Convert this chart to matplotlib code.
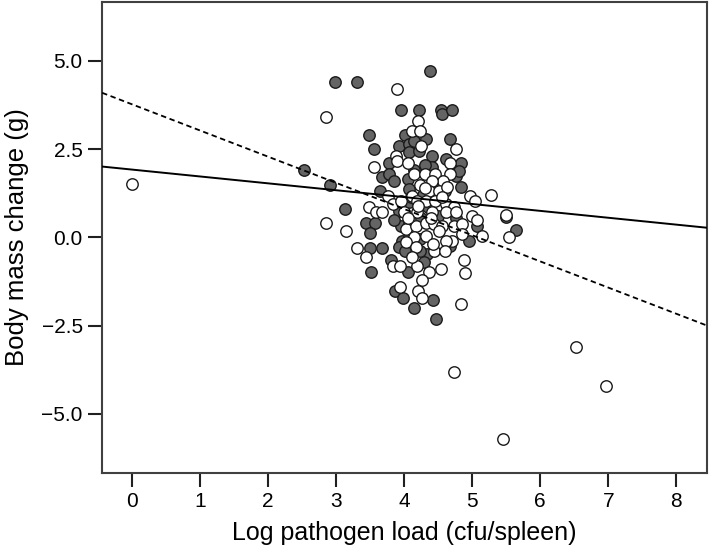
import matplotlib
matplotlib.use("Agg")
import matplotlib.pyplot as plt
from matplotlib.ticker import FuncFormatter

# Grey (filled) group: log pathogen load vs body mass change
grey_x = [2.99, 3.30, 4.38, 3.95, 4.22, 4.54, 4.56, 4.71,
          3.48, 4.01, 4.32, 4.68, 3.55, 3.93, 4.07, 4.15, 4.07, 3.78, 4.22, 4.41, 4.61, 4.84,
          2.53, 3.68, 3.78, 3.85, 4.05, 4.41, 4.76, 4.81, 2.91, 3.65, 4.07, 4.84,
          3.13, 4.07, 3.93, 3.44, 3.57, 3.50, 3.95, 4.07, 5.07, 5.49, 5.65, 4.95, 4.24, 3.97,
          3.50, 3.68, 3.92, 4.01, 4.34, 3.80,
          3.51, 4.06, 4.29, 3.87, 3.99, 4.14, 4.43, 4.47,
          4.68, 4.76, 4.07, 4.23,
          4.10, 4.28, 4.35, 4.25, 3.85, 4.50, 4.30, 4.15, 4.45, 4.60]
grey_y = [4.40, 4.40, 4.71, 3.61, 3.61, 3.61, 3.49, 3.61,
          2.91, 2.91, 2.78, 2.80, 2.50, 2.60, 2.64, 2.74, 2.41, 2.12, 2.45, 2.31, 2.21, 2.12,
          1.92, 1.70, 1.79, 1.60, 1.65, 1.98, 1.75, 1.89, 1.49, 1.32, 1.37, 1.42,
          0.81, 0.99, 0.76, 0.42, 0.41, 0.11, 0.31, 0.38, 0.31, 0.57, 0.21, -0.09, -0.05, -0.09,
          -0.30, -0.30, -0.28, -0.40, -0.47, -0.64,
          -0.99, -0.99, -0.71, -1.51, -1.72, -2.00, -1.79, -2.31,
          -0.25, 0.55, 0.00, -0.38,
          1.15, 1.20, 0.85, 0.55, 0.50, 0.60, 2.05, 1.90, 1.55, 1.30]

# White (open) group
white_x = [0.00, 3.90, 2.85, 4.20, 4.11, 4.24, 4.76, 4.25, 3.88, 3.90, 4.05, 4.68, 3.55,
           4.15, 4.31, 4.46, 4.68, 4.57, 4.41, 4.24, 3.76, 4.12, 4.37, 4.51, 4.63, 4.97, 5.04, 5.27,
           3.49, 3.59, 3.68, 3.83, 3.95, 4.19, 4.32, 4.46, 4.61, 4.73, 4.00, 4.19, 4.41, 4.61, 4.76,
           2.85, 3.14, 4.02, 4.17, 4.32, 4.44, 4.56, 4.73, 4.85, 5.00, 5.07, 5.49, 5.54, 5.15, 4.85,
           4.32, 4.51, 4.15, 4.02, 4.71, 4.61,
           3.30, 3.44, 4.17, 4.44, 4.60, 4.88,
           3.83, 3.94, 4.19, 4.36, 4.26, 4.54, 4.89, 3.94, 4.21, 4.26, 4.84, 4.74,
           6.52, 6.96, 5.45, 4.12, 4.43,
           4.20, 4.05, 4.40, 4.30, 4.55]
white_y = [1.50, 4.21, 3.40, 3.30, 3.01, 3.01, 2.50, 2.60, 2.31, 2.17, 2.12, 2.12, 2.00,
           1.79, 1.79, 1.79, 1.79, 1.60, 1.60, 1.49, 1.18, 1.18, 1.30, 1.30, 1.42, 1.18, 1.02, 1.21,
           0.85, 0.71, 0.71, 0.95, 1.04, 1.04, 1.04, 1.04, 0.95, 0.85, 0.71, 0.71, 0.71, 0.71, 0.71,
           0.40, 0.19, 0.24, 0.33, 0.42, 0.38, 0.33, 0.33, 0.38, 0.61, 0.50, 0.64, 0.00, 0.03, 0.09,
           0.05, 0.19, 0.00, -0.14, -0.09, -0.09,
           -0.30, -0.57, -0.28, -0.40, -0.40, -0.64,
           -0.80, -0.80, -0.80, -0.99, -1.21, -0.90, -1.01, -1.40, -1.51, -1.72, -1.90, -3.81,
           -3.10, -4.22, -5.71, -0.57, -0.19,
           0.88, 0.55, 0.55, 1.40, 1.15]

# Fitted lines (intercept, slope)
solid_fit = (1.92, -0.195)
dashed_fit = (3.77, -0.742)

x_ticks = [0, 1, 2, 3, 4, 5, 6, 7, 8]
y_ticks = [-5.0, -2.5, 0.0, 2.5, 5.0]
x_range = (-0.44, 8.45)
y_range = (-6.68, 6.68)

plt.rcParams["font.family"] = ["Liberation Sans", "DejaVu Sans"]

fig = plt.figure(figsize=(7.09, 5.5), dpi=100)
ax = fig.add_axes([0.144, 0.14, 0.853, 0.857])

edge = "#1a1a1a"
ax.scatter(grey_x, grey_y, s=68, facecolor="#646464", edgecolor=edge, linewidth=1.0, zorder=3)
ax.scatter(white_x, white_y, s=68, facecolor="white", edgecolor=edge, linewidth=1.0, zorder=3)

xs = list(x_range)
ax.plot(xs, [solid_fit[0] + solid_fit[1] * x for x in xs], color="black", lw=1.4, zorder=4)
ax.plot(xs, [dashed_fit[0] + dashed_fit[1] * x for x in xs], color="black", lw=1.3,
        linestyle=(0, (3, 2)), zorder=4)

ax.set_xlim(*x_range)
ax.set_ylim(*y_range)
ax.set_xticks(x_ticks)
ax.set_yticks(y_ticks)
ax.yaxis.set_major_formatter(FuncFormatter(lambda v, p: f"{v:.1f}".replace("-", "\u2212")))

for sp in ax.spines.values():
    sp.set_color("#404040")
    sp.set_linewidth(1.5)
ax.tick_params(direction="out", length=10, width=1.5, color="#202020", labelsize=15, pad=4)

ax.set_xlabel("Log pathogen load (cfu/spleen)", fontsize=18, labelpad=7)
ax.set_ylabel("Body mass change (g)", fontsize=18.5, labelpad=9)

fig.savefig("out.png", dpi=100)
